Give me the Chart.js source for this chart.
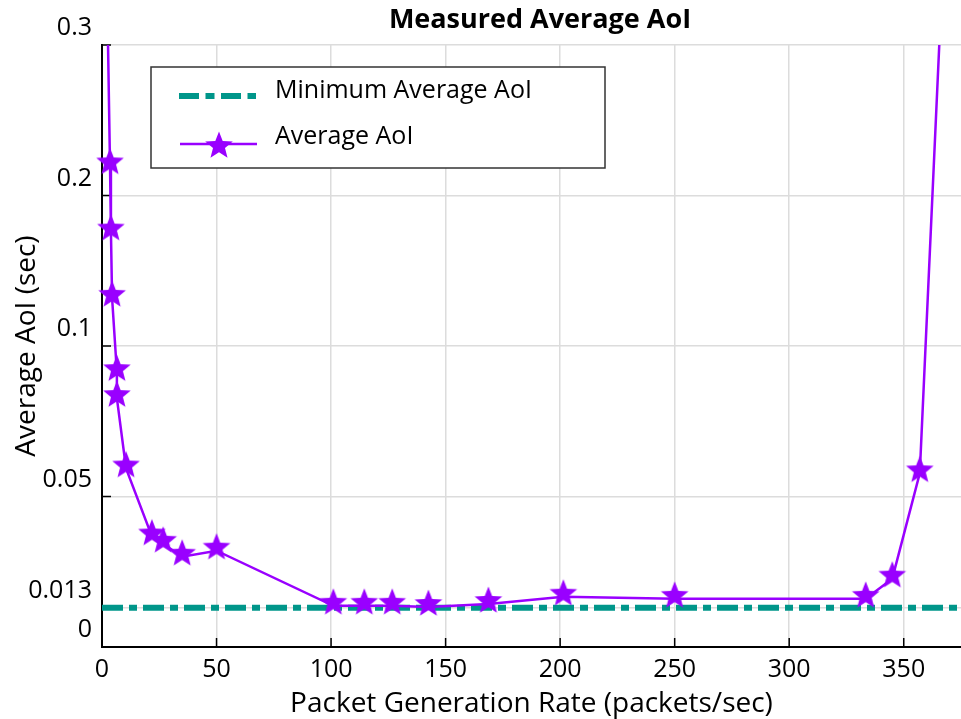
<!DOCTYPE html>
<html>
<head>
<meta charset="utf-8">
<title>Measured Average AoI</title>
<script src="https://cdn.jsdelivr.net/npm/chart.js@4.4.1/dist/chart.umd.min.js"></script>
<style>
  html, body { margin: 0; padding: 0; background: #fff; }
  #wrap { width: 961px; height: 719px; }
</style>
</head>
<body>
<div id="wrap"><canvas id="aoiChart" width="961" height="719"></canvas></div>
<script>
// packet generation rate (packets/sec) and measured average AoI (sec)
const rates  = [1, 3.5, 3.9, 4.4, 6.5, 6.5, 10.5, 21.8, 26.7, 35, 50, 101, 114.5, 126.7, 142.5, 168.7, 201.4, 250, 333.4, 345, 357, 370];
const avgAoi = [0.45, 0.22, 0.176, 0.132, 0.0913, 0.0827, 0.0593, 0.0367, 0.0343, 0.030, 0.032, 0.0137, 0.0137, 0.0137, 0.0133, 0.0143, 0.0167, 0.016, 0.016, 0.0227, 0.0577, 0.45];
const minAoi = 0.013;
const minSpan = [0, 375];

const xTicks = [0, 50, 100, 150, 200, 250, 300, 350];
const yTicks = [0, 0.013, 0.05, 0.1, 0.2, 0.3];
const yTickLabels = ['0', '0.013', '0.05', '0.1', '0.2', '0.3'];

const TEAL = '#00968a';
const PURPLE = '#9900ff';
const FONT = '"Open Sans", "Noto Sans", sans-serif';

// y axis: 0..0.1 uses the lower half, 0.1..0.3 the upper half
const Y_BREAK = 0.1, Y_MAX = 0.3;
function warp(v) {
    return v <= Y_BREAK ? (v / Y_BREAK) * 0.5 : 0.5 + ((v - Y_BREAK) / (Y_MAX - Y_BREAK)) * 0.5;
}
function unwarp(d) {
    return d <= 0.5 ? (d / 0.5) * Y_BREAK : Y_BREAK + ((d - 0.5) / 0.5) * (Y_MAX - Y_BREAK);
}

class BrokenLinearScale extends Chart.LinearScale {
    getPixelForValue(value) {
        return this.getPixelForDecimal(warp(value));
    }
    getValueForPixel(pixel) {
        return unwarp(this.getDecimalForPixel(pixel));
    }
}
BrokenLinearScale.id = 'brokenLinear';
BrokenLinearScale.defaults = Chart.LinearScale.defaults;
Chart.register(BrokenLinearScale);

function starPath(ctx, cx, cy, R, r) {
    ctx.beginPath();
    for (let i = 0; i < 10; i++) {
        const rad = i % 2 ? r : R;
        const a = -Math.PI / 2 + i * Math.PI / 5;
        const px = cx + rad * Math.cos(a), py = cy + rad * Math.sin(a);
        if (i === 0) ctx.moveTo(px, py); else ctx.lineTo(px, py);
    }
    ctx.closePath();
}

const STAR_R = 14.5, STAR_r = 6.3;

// filled star marker (sits a little above the vertex, like the original)
const starImg = document.createElement('canvas');
starImg.width = 34;
starImg.height = 40;
(function() {
    const c = starImg.getContext('2d');
    c.fillStyle = PURPLE;
    starPath(c, 17, 17, STAR_R, STAR_r);
    c.fill();
})();

const chartTitle = {
    id: 'chartTitle',
    afterDraw(chart) {
        const ctx = chart.ctx;
        ctx.save();
        ctx.font = 'bold 27px ' + FONT;
        ctx.fillStyle = '#000';
        ctx.textAlign = 'center';
        ctx.textBaseline = 'alphabetic';
        ctx.fillText('Measured Average AoI', 540, 28);
        ctx.restore();
    }
};

// small tick marks pointing into the plot
const innerTicks = {
    id: 'innerTicks',
    beforeDatasetsDraw(chart) {
        const { ctx, chartArea, scales } = chart;
        ctx.save();
        ctx.strokeStyle = '#000';
        ctx.lineWidth = 1.5;
        ctx.beginPath();
        xTicks.forEach(v => {
            const x = scales.x.getPixelForValue(v);
            ctx.moveTo(x, chartArea.bottom);
            ctx.lineTo(x, chartArea.bottom - 9);
        });
        yTicks.forEach(v => {
            const y = scales.y.getPixelForValue(v);
            ctx.moveTo(chartArea.left, y);
            ctx.lineTo(chartArea.left + 9, y);
        });
        ctx.stroke();
        ctx.restore();
    }
};

const boxLegend = {
    id: 'boxLegend',
    afterDatasetsDraw(chart) {
        const ctx = chart.ctx;
        const sets = chart.data.datasets;
        const bx = 151, by = 67, bw = 454, bh = 101;
        ctx.save();
        ctx.fillStyle = '#fff';
        ctx.fillRect(bx, by, bw, bh);
        ctx.strokeStyle = '#333';
        ctx.lineWidth = 1.5;
        ctx.strokeRect(bx, by, bw, bh);

        ctx.font = '25px ' + FONT;
        ctx.fillStyle = '#000';
        ctx.textAlign = 'left';
        ctx.textBaseline = 'alphabetic';

        // dash-dot sample
        ctx.strokeStyle = sets[0].borderColor;
        ctx.lineWidth = 6;
        ctx.setLineDash([20, 6.5, 9, 6.5]);
        ctx.beginPath();
        ctx.moveTo(179, 96);
        ctx.lineTo(256, 96);
        ctx.stroke();
        ctx.setLineDash([]);
        ctx.fillText(sets[0].label, 275, 98);

        // line + star sample
        ctx.strokeStyle = sets[1].borderColor;
        ctx.lineWidth = 2.5;
        ctx.beginPath();
        ctx.moveTo(180, 144);
        ctx.lineTo(257, 144);
        ctx.stroke();
        ctx.fillStyle = PURPLE;
        starPath(ctx, 219, 146, STAR_R, STAR_r);
        ctx.fill();
        ctx.fillStyle = '#000';
        ctx.fillText(sets[1].label, 275, 144);
        ctx.restore();
    }
};

const ctx = document.getElementById('aoiChart').getContext('2d');
new Chart(ctx, {
    type: 'line',
    data: {
        datasets: [{
            label: 'Minimum Average AoI',
            data: minSpan.map(x => ({ x: x, y: minAoi })),
            borderColor: TEAL,
            borderWidth: 6,
            borderDash: [21, 6, 8, 6],
            borderCapStyle: 'butt',
            pointRadius: 0,
            order: 1
        }, {
            label: 'Average AoI',
            data: rates.map((x, i) => ({ x: x, y: avgAoi[i] })),
            borderColor: PURPLE,
            backgroundColor: PURPLE,
            borderWidth: 2.5,
            pointStyle: starImg,
            pointRadius: 14,
            tension: 0,
            order: 0,
            clip: { left: 16, top: 0, right: 16, bottom: 16 }
        }]
    },
    options: {
        responsive: false,
        animation: false,
        layout: { autoPadding: false, padding: { top: 45, left: 0, right: 0, bottom: 0 } },
        plugins: {
            legend: { display: false },
            tooltip: { enabled: false },
            title: { display: false }
        },
        scales: {
            x: {
                type: 'linear',
                min: 0,
                max: 375,
                afterBuildTicks: s => { s.ticks = xTicks.map(v => ({ value: v })); },
                afterFit: s => { s.height = 72; s.paddingLeft = 0; s.paddingRight = 0; },
                grid: { color: '#dcdcdc', lineWidth: 1.5, drawTicks: false },
                border: { color: '#000', width: 2 },
                ticks: {
                    color: '#000',
                    padding: 8,
                    font: { family: FONT, size: 25 },
                    callback: v => String(v)
                },
                title: {
                    display: true,
                    text: 'Packet Generation Rate (packets/sec)',
                    color: '#000',
                    font: { family: FONT, size: 28 },
                    padding: { top: 0, bottom: -2 }
                }
            },
            y: {
                type: 'brokenLinear',
                min: 0,
                max: 0.3,
                afterBuildTicks: s => { s.ticks = yTicks.map(v => ({ value: v })); },
                afterFit: s => { s.width = 102; s.paddingTop = 0; s.paddingBottom = 0; },
                grid: { color: '#dcdcdc', lineWidth: 1.5, drawTicks: false },
                border: { color: '#000', width: 2 },
                ticks: {
                    color: '#000',
                    padding: 10,
                    labelOffset: -17,
                    font: { family: FONT, size: 25 },
                    callback: (v, i) => yTickLabels[i]
                },
                title: {
                    display: true,
                    text: 'Average AoI (sec)',
                    color: '#000',
                    font: { family: FONT, size: 28 },
                    padding: { top: 10, bottom: 0 }
                }
            }
        }
    },
    plugins: [chartTitle, innerTicks, boxLegend]
});
</script>
</body>
</html>
